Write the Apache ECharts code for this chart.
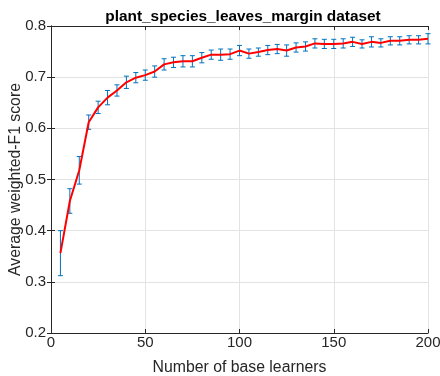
<!DOCTYPE html>
<html>
<head>
<meta charset="utf-8">
<script src="https://cdn.jsdelivr.net/npm/echarts@6/dist/echarts.min.js"></script>
<style>
  html, body { margin: 0; padding: 0; background: #fff; }
  #chart { width: 440px; height: 376px; }
</style>
</head>
<body>
<div id="chart"></div>
<script>
// Ensemble size vs. mean weighted-F1, with standard-deviation bars
var learners = [5, 10, 15, 20, 25, 30, 35, 40, 45, 50,
                55, 60, 65, 70, 75, 80, 85, 90, 95, 100,
                105, 110, 115, 120, 125, 130, 135, 140, 145, 150,
                155, 160, 165, 170, 175, 180, 185, 190, 195, 200];
var meanF1 = [0.356, 0.458, 0.518, 0.612, 0.641, 0.660, 0.674, 0.690, 0.699, 0.704,
              0.711, 0.725, 0.729, 0.731, 0.731, 0.738, 0.744, 0.744, 0.745, 0.752,
              0.746, 0.749, 0.753, 0.755, 0.752, 0.758, 0.760, 0.766, 0.765, 0.765,
              0.766, 0.769, 0.765, 0.769, 0.767, 0.771, 0.771, 0.773, 0.773, 0.775];
var stdF1 = [0.044, 0.024, 0.027, 0.014, 0.012, 0.014, 0.011, 0.012, 0.010, 0.010,
             0.011, 0.011, 0.010, 0.011, 0.011, 0.010, 0.009, 0.011, 0.010, 0.010,
             0.009, 0.008, 0.009, 0.009, 0.011, 0.009, 0.009, 0.009, 0.009, 0.009,
             0.009, 0.009, 0.008, 0.010, 0.008, 0.008, 0.008, 0.008, 0.008, 0.010];
var xTicks = [0, 50, 100, 150, 200];
var yTicks = [0.2, 0.3, 0.4, 0.5, 0.6, 0.7, 0.8];

var lineData = learners.map(function (x, i) { return [x, meanF1[i]]; });
var barData = learners.map(function (x, i) { return [x, meanF1[i] - stdF1[i], meanF1[i] + stdF1[i]]; });

var axisColor = '#262626';
var gridColor = '#e3e3e3';
var font = 'Liberation Sans, Arial, sans-serif';

var chart = echarts.init(document.getElementById('chart'), null, { renderer: 'canvas' });

function baseX(pos, showLabels) {
  return {
    type: 'value', position: pos, min: xTicks[0], max: xTicks[xTicks.length - 1], interval: 50,
    axisLine: { show: true, lineStyle: { color: axisColor, width: 1 } },
    axisTick: { show: true, inside: true, length: 4, lineStyle: { color: axisColor } },
    axisLabel: { show: showLabels, color: axisColor, fontSize: 15, fontFamily: font, margin: 2 },
    splitLine: { show: showLabels, lineStyle: { color: gridColor, width: 1 } }
  };
}
function baseY(pos, showLabels) {
  return {
    type: 'value', position: pos, min: yTicks[0], max: yTicks[yTicks.length - 1], interval: 0.1,
    axisLine: { show: true, lineStyle: { color: axisColor, width: 1 } },
    axisTick: { show: true, inside: true, length: 4, lineStyle: { color: axisColor } },
    axisLabel: { show: showLabels, color: axisColor, fontSize: 15, fontFamily: font, margin: 5,
                 formatter: function (v) { return (Math.round(v * 10) / 10).toString(); } },
    splitLine: { show: showLabels, lineStyle: { color: gridColor, width: 1 } }
  };
}

var xMain = baseX('bottom', true);
xMain.name = 'Number of base learners';
xMain.nameLocation = 'middle';
xMain.nameGap = 27;
xMain.nameMoveOverlap = false;
xMain.nameTextStyle = { color: axisColor, fontSize: 15.8, fontFamily: font };
var yMain = baseY('left', true);
yMain.name = 'Average weighted-F1 score';
yMain.nameLocation = 'middle';
yMain.nameGap = 27;
yMain.nameMoveOverlap = false;
yMain.nameTextStyle = { color: axisColor, fontSize: 15.8, fontFamily: font };

chart.setOption({
  animation: false,
  backgroundColor: '#ffffff',
  title: {
    text: 'plant_species_leaves_margin dataset',
    left: 238, top: 4, textAlign: 'center',
    textStyle: { color: '#000', fontSize: 15.4, fontWeight: 'bold', fontFamily: font }
  },
  grid: { left: 51, right: 12, top: 26, bottom: 43, containLabel: false, outerBoundsMode: 'none' },
  xAxis: [xMain, baseX('top', false)],
  yAxis: [yMain, baseY('right', false)],
  series: [
    {
      type: 'custom',
      xAxisIndex: 0, yAxisIndex: 0,
      data: barData,
      z: 2,
      renderItem: function (params, api) {
        var x = api.value(0);
        var lo = api.coord([x, api.value(1)]);
        var hi = api.coord([x, api.value(2)]);
        var cap = 2.5;
        var style = { stroke: '#0072BD', lineWidth: 1 };
        return {
          type: 'group',
          children: [
            { type: 'line', shape: { x1: lo[0], y1: lo[1], x2: hi[0], y2: hi[1] }, style: style },
            { type: 'line', shape: { x1: lo[0] - cap, y1: lo[1], x2: lo[0] + cap, y2: lo[1] }, style: style },
            { type: 'line', shape: { x1: hi[0] - cap, y1: hi[1], x2: hi[0] + cap, y2: hi[1] }, style: style }
          ]
        };
      }
    },
    {
      type: 'line',
      xAxisIndex: 0, yAxisIndex: 0,
      data: lineData,
      z: 3,
      showSymbol: false,
      lineStyle: { color: '#ff0000', width: 2 }
    }
  ]
});
</script>
</body>
</html>
